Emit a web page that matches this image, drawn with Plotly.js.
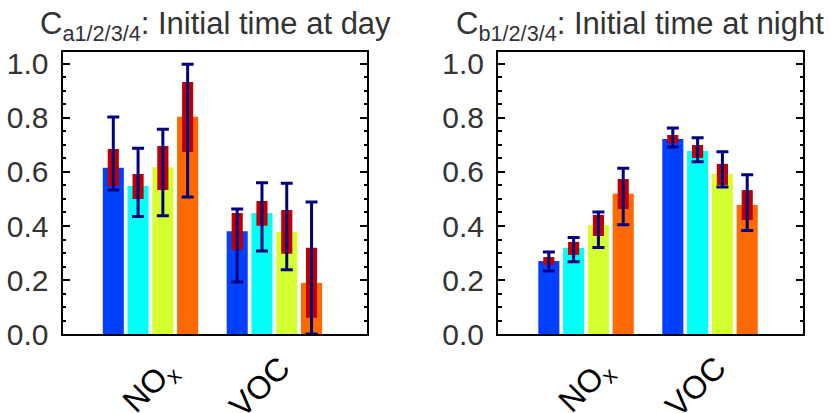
<!DOCTYPE html>
<html>
<head>
<meta charset="utf-8">
<script src="https://cdn.plot.ly/plotly-3.0.1.min.js"></script>
<style>html,body{margin:0;padding:0;background:#fff;}#chart{width:838px;height:413px;}</style>
</head>
<body>
<div id="chart"></div>
<script>
// ---------------- data ----------------
const categories = ['NO<sub>x</sub>', 'VOC'];
const seriesNames = ['1', '2', '3', '4'];
const panelTitles = ['C<sub>a1/2/3/4</sub>: Initial time at day', 'C<sub>b1/2/3/4</sub>: Initial time at night'];
const yTickVals = [0, 0.2, 0.4, 0.6, 0.8, 1.0];
const yTickText = ['0.0', '0.2', '0.4', '0.6', '0.8', '1.0'];

// day panel: [series][category]
const dayBar   = [[0.616, 0.381], [0.548, 0.448], [0.618, 0.378], [0.805, 0.189]];
const dayBoxLo = [[0.548, 0.312], [0.500, 0.401], [0.533, 0.297], [0.674, 0.060]];
const dayBoxHi = [[0.685, 0.448], [0.593, 0.493], [0.696, 0.459], [0.933, 0.319]];
const dayErrLo = [[0.533, 0.193], [0.435, 0.307], [0.438, 0.238], [0.507, 0.000]];
const dayErrHi = [[0.804, 0.463], [0.688, 0.560], [0.758, 0.558], [0.999, 0.489]];

// night panel
const nightBar   = [[0.270, 0.722], [0.319, 0.678], [0.404, 0.593], [0.519, 0.478]];
const nightBoxLo = [[0.256, 0.707], [0.293, 0.652], [0.363, 0.552], [0.463, 0.422]];
const nightBoxHi = [[0.285, 0.737], [0.341, 0.700], [0.441, 0.630], [0.574, 0.533]];
const nightErrLo = [[0.233, 0.693], [0.268, 0.638], [0.320, 0.544], [0.405, 0.383]];
const nightErrHi = [[0.304, 0.763], [0.357, 0.727], [0.452, 0.675], [0.614, 0.590]];

// ---------------- style ----------------
const barColors = ['#0040ff', '#00fff6', '#d4ff30', '#ff6a00'];
const boxColor = '#c00000';
const errColor = '#000080';
const FONT = '"Liberation Sans", Arial, Helvetica, sans-serif';
const catPos = categories.map((c, i) => i + 1);
const offsets = [-0.3, -0.1, 0.1, 0.3];
const labelShift = [0, -15];

const panels = [
  {bar: dayBar, lo: dayBoxLo, hi: dayBoxHi, elo: dayErrLo, ehi: dayErrHi, xa: 'x', ya: 'y'},
  {bar: nightBar, lo: nightBoxLo, hi: nightBoxHi, elo: nightErrLo, ehi: nightErrHi, xa: 'x2', ya: 'y2'}
];

const traces = [];
panels.forEach(p => {
  seriesNames.forEach((s, k) => {
    const xs = catPos.map(c => c + offsets[k]);
    traces.push({type: 'bar', x: xs, y: p.bar[k], width: 0.17, marker: {color: barColors[k], line: {width: 0}},
      xaxis: p.xa, yaxis: p.ya, showlegend: false, hoverinfo: 'skip', name: s});
  });
  seriesNames.forEach((s, k) => {
    const xs = catPos.map(c => c + offsets[k]);
    traces.push({type: 'bar', x: xs, base: p.lo[k], y: p.hi[k].map((h, j) => h - p.lo[k][j]), width: 0.09,
      marker: {color: boxColor, line: {width: 0}}, xaxis: p.xa, yaxis: p.ya, showlegend: false, hoverinfo: 'skip'});
  });
  seriesNames.forEach((s, k) => {
    const xs = catPos.map(c => c + offsets[k]);
    const mid = p.elo[k].map((l, j) => (l + p.ehi[k][j]) / 2);
    traces.push({type: 'scatter', mode: 'markers', x: xs, y: mid,
      marker: {size: 1, color: 'rgba(0,0,0,0)'},
      error_y: {type: 'data', symmetric: false, array: p.ehi[k].map((h, j) => h - mid[j]),
        arrayminus: mid.map((m, j) => m - p.elo[k][j]), color: errColor, thickness: 3, width: 6},
      xaxis: p.xa, yaxis: p.ya, showlegend: false, hoverinfo: 'skip', cliponaxis: false});
  });
});

function xAxis(domain, anchor) {
  return {domain: domain, range: [0.29, 2.75], anchor: anchor, showgrid: false, zeroline: false,
    showticklabels: false, ticks: '', showline: true, linecolor: '#000', linewidth: 2, mirror: true, fixedrange: true};
}
function yAxis(domain, anchor) {
  return {domain: domain, range: [0, 1.0444], anchor: anchor, showgrid: false, zeroline: false,
    tickvals: yTickVals, ticktext: yTickText, ticks: 'inside', ticklen: 7, tickwidth: 2, tickcolor: '#000',
    minor: {dtick: 0.05, tick0: 0, ticks: 'inside', ticklen: 3.5, tickwidth: 2, tickcolor: '#000'},
    showline: true, linecolor: '#000', linewidth: 2, mirror: 'ticks',
    tickfont: {family: FONT, size: 30, color: '#333'}, ticklabelstandoff: 6, fixedrange: true};
}

const yDom = [1 - 334 / 413, 1 - 52 / 413];
const annotations = [];
const titleX = [215, 640];
panelTitles.forEach((t, i) => {
  annotations.push({text: t, xref: 'paper', yref: 'paper', x: titleX[i] / 838, y: 1 - 26 / 413,
    xanchor: 'center', yanchor: 'middle', showarrow: false, font: {family: FONT, size: 31, color: '#333'}});
});
['x', 'x2'].forEach((xa, pi) => {
  categories.forEach((c, i) => {
    annotations.push({text: c, xref: xa, yref: 'paper', x: catPos[i], xshift: labelShift[i], y: 1 - 387 / 413,
      xanchor: 'center', yanchor: 'middle', textangle: -45, showarrow: false,
      font: {family: FONT, size: 32, color: '#000'}});
  });
});

const layout = {
  width: 838, height: 413, margin: {l: 0, r: 0, t: 0, b: 0}, paper_bgcolor: '#fff', plot_bgcolor: '#fff',
  barmode: 'overlay', showlegend: false,
  xaxis: xAxis([62.5 / 838, 367.3 / 838], 'y'),
  yaxis: yAxis(yDom, 'x'),
  xaxis2: xAxis([498 / 838, 803 / 838], 'y2'),
  yaxis2: yAxis(yDom, 'x2'),
  annotations: annotations
};

Plotly.newPlot('chart', traces, layout, {staticPlot: true, displayModeBar: false});
</script>
</body>
</html>
